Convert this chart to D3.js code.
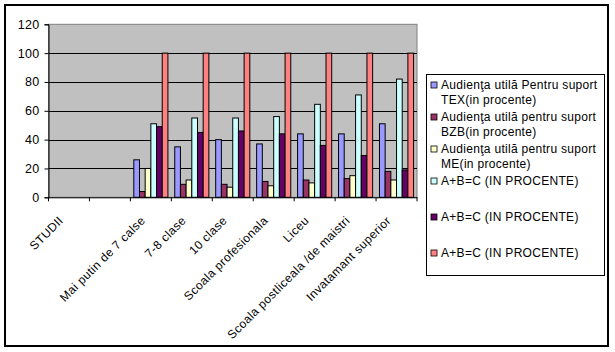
<!DOCTYPE html>
<html>
<head>
<meta charset="utf-8">
<script src="https://cdn.jsdelivr.net/npm/d3@7"></script>
<style>
  html, body { margin: 0; padding: 0; background: #fff; }
  svg { display: block; font-family: "Liberation Sans", Arial, sans-serif; }
</style>
</head>
<body>
<svg id="chart" width="615" height="352"></svg>
<script>
// ---------- DATA ----------
const categories = ["STUDII", "", "Mai putin de 7 calse", "7-8 clase", "10 clase",
  "Scoala profesionala", "Liceu", "Scoala postliceala /de maistri", "Invatamant superior"];
const texValues = [null, null, 26, 35, 40, 37, 44, 44, 51];
const bzbValues = [null, null, 4, 9, 9, 11, 12, 13, 18];
const meValues  = [null, null, 20, 12, 7, 8, 10, 15, 12];
const sumValuesA = [null, null, 51, 55, 55, 56, 64.5, 71, 82];
const sumValuesB = [null, null, 49, 45, 46, 44, 36, 29, 19];
const sumValuesC = [null, null, 100, 100, 100, 100, 100, 100, 100];
const seriesNames = [
  ["Audienţa utilă Pentru suport", "TEX(in procente)"],
  ["Audienţa utilă pentru suport", "BZB(in procente)"],
  ["Audienţa utilă pentru suport", "ME(in procente)"],
  ["A+B=C (IN PROCENTE)"],
  ["A+B=C (IN PROCENTE)"],
  ["A+B=C (IN PROCENTE)"]
];
const yTicks = [0, 20, 40, 60, 80, 100, 120];

// ---------- STYLE ----------
const colors = ["#9999FF", "#993366", "#FFFFCC", "#CCFFFF", "#660066", "#FF8080"];
const seriesValues = [texValues, bzbValues, meValues, sumValuesA, sumValuesB, sumValuesC];

const svg = d3.select("#chart");
const plot = { left: 48.5, right: 417, top: 24.3, bottom: 197.3 };

// chart frame
svg.append("rect").attr("x", 5).attr("y", 5).attr("width", 603).attr("height", 341)
  .attr("fill", "#fff").attr("stroke", "#000").attr("stroke-width", 2);

const x0 = d3.scaleBand().domain(d3.range(categories.length))
  .range([plot.left, plot.right]).paddingInner(0).paddingOuter(0);
const x1 = d3.scaleBand().domain(d3.range(seriesValues.length))
  .range([0, x0.bandwidth()]).paddingInner(0).paddingOuter(0.6);
const y = d3.scaleLinear().domain([0, 120]).range([plot.bottom, plot.top]);

// plot area
svg.append("rect").attr("x", plot.left).attr("y", plot.top)
  .attr("width", plot.right - plot.left).attr("height", plot.bottom - plot.top)
  .attr("fill", "#C0C0C0").attr("stroke", "#808080").attr("stroke-width", 1);

// gridlines
svg.append("g").selectAll("line").data(yTicks.filter(t => t > 0 && t < 120)).join("line")
  .attr("x1", plot.left).attr("x2", plot.right)
  .attr("y1", d => Math.round(y(d)) + 0.5).attr("y2", d => Math.round(y(d)) + 0.5)
  .attr("stroke", "#000").attr("stroke-width", 1);

// bars
const groups = svg.append("g").selectAll("g").data(seriesValues).join("g")
  .attr("fill", (d, i) => colors[i]);
groups.each(function (vals, si) {
  d3.select(this).selectAll("rect")
    .data(vals.map((v, ci) => ({ v, ci })).filter(d => d.v != null))
    .join("rect")
    .attr("x", d => x0(d.ci) + x1(si))
    .attr("y", d => y(d.v))
    .attr("width", x1.bandwidth())
    .attr("height", d => y(0) - y(d.v))
    .attr("stroke", "#000").attr("stroke-width", 1);
});

// y axis
const yAxis = d3.axisLeft(y).tickValues(yTicks).tickSize(4).tickPadding(5);
const yg = svg.append("g").attr("transform", `translate(${plot.left},0)`).call(yAxis);
yg.select(".domain").attr("stroke", "#000");
yg.selectAll("line").attr("stroke", "#000");
yg.selectAll("text").attr("font-size", 12.5).attr("fill", "#000")
  .attr("letter-spacing", "0.3px")
  .attr("font-family", "Liberation Sans, Arial, sans-serif");

// x axis
const xAxis = d3.axisBottom(x0).tickSize(0).tickFormat("");
const xg = svg.append("g").attr("transform", `translate(0,${plot.bottom})`).call(xAxis);
xg.select(".domain").attr("stroke", "#000");
xg.selectAll("line.sep").data(d3.range(categories.length + 1)).join("line")
  .attr("class", "sep")
  .attr("x1", i => plot.left + i * x0.step()).attr("x2", i => plot.left + i * x0.step())
  .attr("y1", 0).attr("y2", 4).attr("stroke", "#000");

// x labels rotated
svg.append("g").selectAll("text").data(categories).join("text")
  .attr("transform", (d, i) => `translate(${x0(i) + x0.bandwidth() / 2 - 11},${plot.bottom + 18}) rotate(-45)`)
  .attr("text-anchor", "end")
  .attr("dy", "0.71em")
  .attr("font-size", 12)
  .attr("letter-spacing", "0.4px")
  .attr("fill", "#000")
  .text(d => d);

// legend
const legend = { x: 426.5, y: 74.5, w: 178, h: 201 };
svg.append("rect").attr("x", legend.x).attr("y", legend.y)
  .attr("width", legend.w).attr("height", legend.h)
  .attr("fill", "#fff").attr("stroke", "#000").attr("stroke-width", 1);
const entryY = [];
{
  let yy = 85;
  seriesNames.forEach((n, i) => { entryY.push(yy); yy += n.length > 1 ? 32 : 36; });
}
const le = svg.append("g").selectAll("g").data(seriesNames).join("g")
  .attr("transform", (d, i) => `translate(${legend.x + 4.5},${entryY[i]})`);
le.append("rect").attr("x", 0).attr("y", -3).attr("width", 6).attr("height", 6)
  .attr("fill", (d, i) => colors[i]).attr("stroke", "#000").attr("stroke-width", 0.8);
le.each(function (lines) {
  const t = d3.select(this).append("text").attr("x", 10).attr("y", 4.3)
    .attr("font-size", 12).attr("letter-spacing", "0.3px").attr("fill", "#000");
  lines.forEach((l, k) => {
    t.append("tspan").attr("x", 10).attr("dy", k === 0 ? 0 : 15).text(l);
  });
});
</script>
</body>
</html>
